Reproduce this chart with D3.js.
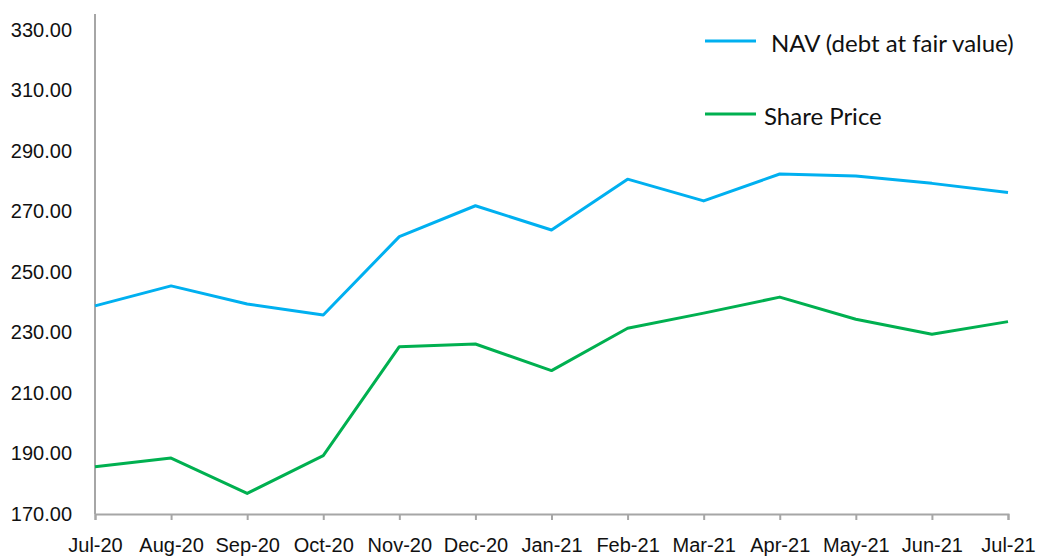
<!DOCTYPE html>
<html>
<head>
<meta charset="utf-8">
<script src="https://cdnjs.cloudflare.com/ajax/libs/d3/7.8.5/d3.min.js"></script>
<style>
  body { margin: 0; background: #fff; }
  svg { display: block; font-family: Lato, "Open Sans", sans-serif; }
</style>
</head>
<body>
<div id="chart"></div>
<script>
// months on the x axis
var months = ["Jul-20", "Aug-20", "Sep-20", "Oct-20", "Nov-20", "Dec-20", "Jan-21",
              "Feb-21", "Mar-21", "Apr-21", "May-21", "Jun-21", "Jul-21"];

// NAV (debt at fair value)
var navValues = [238.8, 245.4, 239.4, 235.8, 261.7, 271.9, 263.9,
                 280.7, 273.5, 282.4, 281.7, 279.3, 276.3];

// Share price
var priceValues = [185.6, 188.5, 176.8, 189.3, 225.3, 226.2, 217.4,
                   231.4, 236.4, 241.7, 234.4, 229.4, 233.6];

var yTicks = [170, 190, 210, 230, 250, 270, 290, 310, 330];

var svgWidth = 1037, svgHeight = 557;

var svg = d3.select("#chart").append("svg")
    .attr("width", svgWidth)
    .attr("height", svgHeight);

// scales
var xScale = d3.scalePoint()
    .domain(months)
    .range([95, 1008]);

var yScale = d3.scaleLinear()
    .domain([170, 330])
    .range([514, 30]);

var axisColor = "#a6a6a6";

// y axis line (runs a bit above the top tick)
svg.append("line")
    .attr("x1", 95).attr("x2", 95)
    .attr("y1", 14).attr("y2", yScale(170))
    .attr("stroke", axisColor)
    .attr("stroke-width", 2);

var yAxis = d3.axisLeft(yScale)
    .tickValues(yTicks)
    .tickSize(0)
    .tickPadding(23)
    .tickFormat(d3.format(".2f"));

var yG = svg.append("g")
    .attr("transform", "translate(95,0)")
    .call(yAxis);
yG.select(".domain").remove();
yG.selectAll("text")
    .style("font-size", "20px")
    .attr("fill", "#111");

// x axis
var xAxis = d3.axisBottom(xScale)
    .tickSize(6)
    .tickSizeOuter(6)
    .tickPadding(18);

var xG = svg.append("g")
    .attr("transform", "translate(0," + yScale(170) + ")")
    .call(xAxis);
xG.select(".domain")
    .attr("stroke", axisColor)
    .attr("stroke-width", 2);
xG.selectAll(".tick line")
    .attr("stroke", axisColor)
    .attr("stroke-width", 2);
xG.selectAll("text")
    .style("font-size", "20px")
    .attr("fill", "#111");

// lines
var series = [
  { name: "NAV (debt at fair value)", values: navValues, color: "#00b0f0" },
  { name: "Share Price", values: priceValues, color: "#00b050" }
];

var line = d3.line()
    .x(function(d, i) { return xScale(months[i]); })
    .y(function(d) { return yScale(d); });

svg.selectAll("path.series")
    .data(series)
    .enter()
    .append("path")
    .attr("class", "series")
    .attr("d", function(d) { return line(d.values); })
    .attr("fill", "none")
    .attr("stroke", function(d) { return d.color; })
    .attr("stroke-width", 3)
    .attr("stroke-linejoin", "round");

// legend
var legend = svg.append("g");

legend.append("line")
    .attr("x1", 705).attr("x2", 756)
    .attr("y1", 41).attr("y2", 41)
    .attr("stroke", series[0].color)
    .attr("stroke-width", 3);
legend.append("text")
    .attr("x", 771).attr("y", 52)
    .style("font-size", "24px")
    .attr("fill", "#111")
    .text(series[0].name);

legend.append("line")
    .attr("x1", 705).attr("x2", 756)
    .attr("y1", 114).attr("y2", 114)
    .attr("stroke", series[1].color)
    .attr("stroke-width", 3);
legend.append("text")
    .attr("x", 764).attr("y", 125)
    .style("font-size", "24px")
    .attr("fill", "#111")
    .text(series[1].name);
</script>
</body>
</html>
